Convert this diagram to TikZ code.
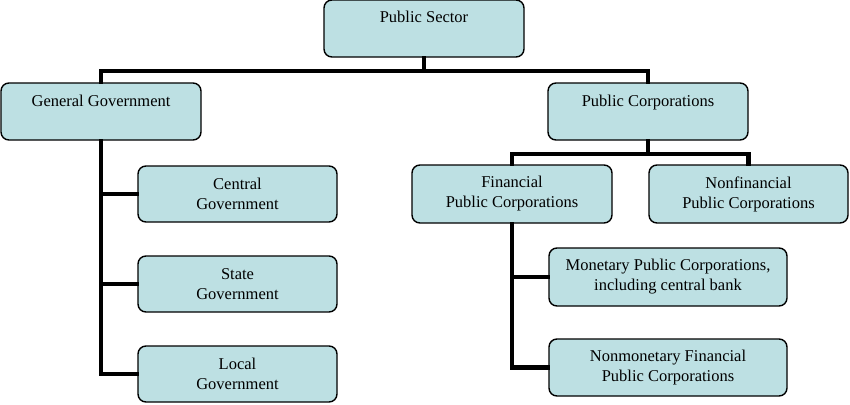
\documentclass[tikz,border=0pt]{standalone}
\usepackage{fontspec}
\setmainfont{Liberation Serif}
\definecolor{boxfill}{RGB}{189,224,227}
\begin{document}
\begin{tikzpicture}[x=1pt,y=-1pt,
  box/.style={draw=black, line width=1.4pt, fill=boxfill, rounded corners=8pt,
    font=\fontsize{16.5}{20}\selectfont, align=center, inner sep=0pt},
  onebox/.style={box, text height=23pt, text depth=34pt},
  conn/.style={line width=4.2pt, line cap=rect}]
\useasboundingbox (0,0) rectangle (850,404);
\node[onebox, minimum width=200pt] (ps) at (424,28.5) {Public Sector};
\node[onebox, minimum width=200pt] (gg) at (101,111.5) {General Government};
\node[onebox, minimum width=200pt] (pc) at (648,111.5) {Public Corporations};
\node[box, minimum width=199pt, minimum height=56pt] (cg) at (237.5,194) {Central\\Government};
\node[box, minimum width=199pt, minimum height=56pt] (sg) at (237.5,284) {State\\Government};
\node[box, minimum width=199pt, minimum height=56pt] (lg) at (237.5,374) {Local\\Government};
\node[box, minimum width=200pt, minimum height=58pt] (fpc) at (512,194) {Financial\\Public Corporations};
\node[box, minimum width=199pt, minimum height=58pt] (nfpc) at (748.5,194) {Nonfinancial\\Public Corporations};
\node[box, minimum width=238pt, minimum height=58pt] (mpc) at (668,277) {Monetary Public Corporations,\\including central bank};
\node[box, minimum width=238pt, minimum height=57pt] (nmpc) at (668,367.5) {Nonmonetary Financial\\Public Corporations};
\coordinate (psj) at ([yshift=-13pt]ps.south);
\coordinate (pcj) at ([yshift=-13pt]pc.south);
\draw[conn] (ps.south) -- (psj) -| (gg.north);
\draw[conn] (psj) -| (pc.north);
\draw[conn] (gg.south) |- (cg.west);
\draw[conn] (gg.south) |- (sg.west);
\draw[conn] (gg.south) |- (lg.west);
\draw[conn] (pc.south) -- (pcj) -| (fpc.north);
\draw[conn] (pcj) -| (nfpc.north);
\draw[conn] (fpc.south) |- (mpc.west);
\draw[conn] (fpc.south) |- (nmpc.west);
\end{tikzpicture}
\end{document}
